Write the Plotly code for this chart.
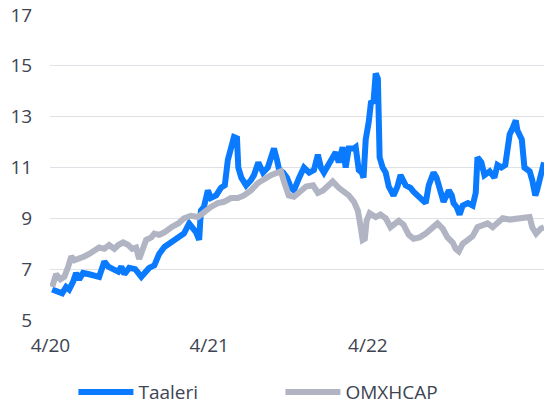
import plotly.graph_objects as go

taaleri_dates = [
    "2020-04-05", "2020-04-17", "2020-04-28", "2020-05-07", "2020-05-14", "2020-05-23", "2020-05-30",
    "2020-06-06", "2020-06-15", "2020-06-29", "2020-07-10", "2020-07-22", "2020-08-03", "2020-08-12",
    "2020-08-23", "2020-09-04", "2020-09-11", "2020-09-18", "2020-09-29", "2020-10-13", "2020-10-27",
    "2020-11-05", "2020-11-14", "2020-11-26", "2020-12-07", "2020-12-19", "2021-01-04", "2021-01-20",
    "2021-02-02", "2021-02-14", "2021-02-23", "2021-03-02", "2021-03-09", "2021-03-13", "2021-03-20",
    "2021-03-29", "2021-04-05", "2021-04-17", "2021-04-28", "2021-05-07", "2021-05-14", "2021-05-21",
    "2021-05-28", "2021-06-04", "2021-06-07", "2021-06-14", "2021-06-25", "2021-07-06", "2021-07-13",
    "2021-07-23", "2021-08-03", "2021-08-14", "2021-08-21", "2021-08-28", "2021-09-04", "2021-09-09",
    "2021-09-18", "2021-09-27", "2021-10-06", "2021-10-13", "2021-10-25", "2021-11-05", "2021-11-17",
    "2021-11-28", "2021-12-07", "2021-12-14", "2021-12-21", "2022-01-01", "2022-01-17", "2022-01-24",
    "2022-02-02", "2022-02-09", "2022-02-16", "2022-02-28", "2022-03-04", "2022-03-11", "2022-03-18",
    "2022-03-22", "2022-03-27", "2022-04-03", "2022-04-08", "2022-04-14", "2022-04-19", "2022-04-24",
    "2022-04-26", "2022-04-28", "2022-05-05", "2022-05-12", "2022-05-19", "2022-05-30", "2022-06-08",
    "2022-06-15", "2022-06-27", "2022-07-08", "2022-07-15", "2022-07-27", "2022-08-12", "2022-08-19",
    "2022-08-30", "2022-09-06", "2022-09-15", "2022-09-22", "2022-10-04", "2022-10-11", "2022-10-15",
    "2022-10-22", "2022-10-29", "2022-11-05", "2022-11-17", "2022-11-28", "2022-12-05", "2022-12-09",
    "2022-12-18", "2022-12-25", "2023-01-06", "2023-01-17", "2023-01-24", "2023-02-02", "2023-02-11",
    "2023-02-16", "2023-02-21", "2023-02-28", "2023-03-07", "2023-03-11", "2023-03-21", "2023-03-27",
    "2023-04-08", "2023-04-14", "2023-04-21", "2023-04-25", "2023-05-04", "2023-05-11",
]
taaleri_values = [
    6.2, 6.1, 6.05, 6.3, 6.2, 6.5, 6.85,
    6.6, 6.85, 6.8, 6.75, 6.7, 7.3, 7.1,
    7.0, 6.9, 7.1, 6.8, 7.05, 7.0, 6.7,
    6.9, 7.05, 7.15, 7.6, 7.87, 8.07, 8.27,
    8.4, 8.8, 8.6, 8.45, 8.15, 9.3, 9.45,
    10.1, 9.8, 9.9, 10.2, 10.3, 11.3, 11.8,
    12.2, 12.15, 11.0, 10.6, 10.3, 10.5, 10.7,
    11.2, 10.8, 11.0, 11.3, 11.75, 11.3, 10.9,
    10.8, 10.6, 10.2, 10.1, 10.6, 11.0, 10.8,
    10.9, 11.5, 11.0, 10.8, 11.1, 11.6, 11.2,
    11.8, 11.0, 11.75, 11.75, 11.8, 10.9, 10.8,
    10.6, 12.1, 12.8, 13.55, 13.6, 14.7, 14.5,
    12.9, 11.4, 11.0, 10.8, 10.25, 9.9, 10.25,
    10.7, 10.3, 10.2, 10.05, 9.85, 9.6, 10.3,
    10.8, 10.6, 10.05, 9.65, 10.1, 9.9, 9.6,
    9.45, 9.15, 9.5, 9.6, 9.5, 10.0, 11.4,
    11.2, 10.7, 10.85, 10.6, 11.1, 11.0, 11.1,
    11.7, 12.3, 12.55, 12.85, 12.45, 12.1, 11.0,
    10.85, 10.5, 9.9, 10.1, 10.8, 11.2,
]

omx_dates = [
    "2020-04-05", "2020-04-14", "2020-04-24", "2020-05-03", "2020-05-12", "2020-05-19", "2020-05-26",
    "2020-06-06", "2020-06-18", "2020-06-29", "2020-07-10", "2020-07-22", "2020-08-03", "2020-08-14",
    "2020-08-26", "2020-09-04", "2020-09-15", "2020-09-27", "2020-10-06", "2020-10-15", "2020-10-22",
    "2020-10-31", "2020-11-07", "2020-11-19", "2020-11-26", "2020-12-07", "2020-12-19", "2021-01-04",
    "2021-01-20", "2021-02-02", "2021-02-18", "2021-03-06", "2021-03-20", "2021-04-05", "2021-04-21",
    "2021-05-05", "2021-05-21", "2021-06-06", "2021-06-20", "2021-07-06", "2021-07-23", "2021-08-05",
    "2021-08-21", "2021-09-06", "2021-09-13", "2021-09-20", "2021-10-01", "2021-10-13", "2021-10-25",
    "2021-11-10", "2021-11-26", "2021-12-07", "2021-12-19", "2021-12-30", "2022-01-10", "2022-01-24",
    "2022-02-05", "2022-02-16", "2022-02-28", "2022-03-09", "2022-03-16", "2022-03-20", "2022-03-25",
    "2022-03-29", "2022-04-05", "2022-04-19", "2022-04-30", "2022-05-12", "2022-05-23", "2022-06-01",
    "2022-06-11", "2022-06-22", "2022-07-04", "2022-07-15", "2022-07-29", "2022-08-12", "2022-08-28",
    "2022-09-08", "2022-09-20", "2022-10-01", "2022-10-13", "2022-10-20", "2022-10-27", "2022-11-05",
    "2022-11-17", "2022-11-28", "2022-12-09", "2022-12-21", "2023-01-01", "2023-01-13", "2023-01-24",
    "2023-02-05", "2023-02-21", "2023-03-09", "2023-03-23", "2023-04-08", "2023-04-14", "2023-04-23",
    "2023-05-04", "2023-05-11",
]
omx_values = [
    6.3, 6.8, 6.6, 6.7, 7.1, 7.5, 7.35,
    7.4, 7.5, 7.6, 7.7, 7.85, 7.8, 7.95,
    7.8, 7.95, 8.05, 7.95, 7.8, 7.85, 7.4,
    7.85, 8.15, 8.25, 8.4, 8.35, 8.45, 8.65,
    8.8, 9.0, 9.1, 9.05, 9.25, 9.45, 9.6,
    9.65, 9.8, 9.8, 9.9, 10.1, 10.4, 10.55,
    10.7, 10.8, 10.85, 10.45, 9.9, 9.85, 10.05,
    10.25, 10.3, 10.0, 10.1, 10.3, 10.45, 10.2,
    10.05, 9.9, 9.65, 9.3, 8.6, 8.15, 8.2,
    8.9, 9.2, 9.05, 9.15, 9.0, 8.65, 8.8,
    8.9, 8.75, 8.35, 8.2, 8.25, 8.4, 8.6,
    8.8, 8.6, 8.25, 8.05, 7.8, 7.7, 8.0,
    8.15, 8.3, 8.65, 8.75, 8.8, 8.65, 8.8,
    9.0, 8.95, 9.0, 9.0, 9.05, 8.65, 8.4,
    8.6, 8.65,
]

y_ticks = [5, 7, 9, 11, 13, 15, 17]
x_tick_dates = ["2020-04-01", "2021-04-01", "2022-04-01"]
x_tick_labels = ["4/20", "4/21", "4/22"]

BLUE = "#0A7AFF"
GRAY = "#B0B4C3"
TEXT = "#3D4452"
FONT = "Open Sans"

fig = go.Figure()
fig.add_trace(go.Scatter(x=taaleri_dates, y=taaleri_values, mode="lines", name="Taaleri",
                         line=dict(color=BLUE, width=6)))
fig.add_trace(go.Scatter(x=omx_dates, y=omx_values, mode="lines", name="OMXHCAP",
                         line=dict(color=GRAY, width=6)))

fig.update_layout(
    width=544, height=405,
    margin=dict(l=50, r=0, t=15, b=85),
    paper_bgcolor="white", plot_bgcolor="white",
    font=dict(family=FONT, size=19, color=TEXT),
    showlegend=True,
    legend=dict(orientation="h", xref="container", yref="container",
                x=0.135, y=0.032, xanchor="left", yanchor="middle",
                entrywidth=137, entrywidthmode="pixels", itemwidth=55,
                font=dict(family=FONT, size=19, color=TEXT)),
    xaxis=dict(range=["2020-03-31", "2023-05-11"], tickvals=x_tick_dates, ticktext=x_tick_labels,
               showgrid=False, zeroline=False, showline=False,
               ticks="outside", ticklen=8, tickcolor="rgba(0,0,0,0)"),
    yaxis=dict(range=[5, 17], tickvals=y_ticks, showgrid=True, gridcolor="#E0E1E7", gridwidth=1,
               zeroline=False, showline=False,
               ticks="outside", ticklen=13, tickcolor="rgba(0,0,0,0)"),
)

fig.write_html("out.html", config={"displayModeBar": False},
               post_script="document.body.style.margin='0px';")
